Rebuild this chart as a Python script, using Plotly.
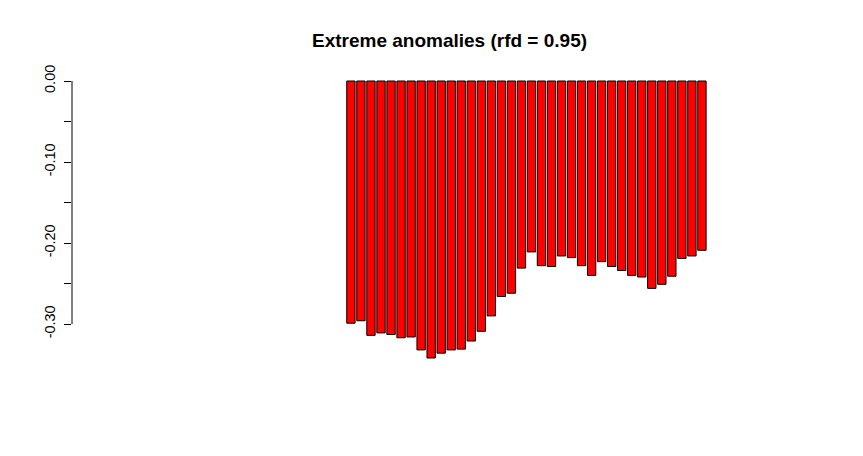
import plotly.graph_objects as go

values = [-0.299, -0.296, -0.314, -0.311, -0.313, -0.317, -0.316, -0.332, -0.342,
          -0.336, -0.332, -0.331, -0.321, -0.309, -0.290, -0.266, -0.262, -0.231,
          -0.211, -0.228, -0.229, -0.216, -0.218, -0.228, -0.240, -0.223, -0.229,
          -0.234, -0.240, -0.242, -0.256, -0.251, -0.241, -0.219, -0.216, -0.209]
positions = list(range(1, len(values) + 1))
tick_vals = [0.0, -0.05, -0.10, -0.15, -0.20, -0.25, -0.30]
tick_text = ["0.00", "", "-0.10", "", "-0.20", "", "-0.30"]
title = "Extreme anomalies (rfd = 0.95)"

fig = go.Figure(go.Bar(
    x=positions, y=values,
    marker=dict(color="#FF0000", line=dict(color="black", width=1)),
    hoverinfo="y",
))

fig.update_layout(
    width=863, height=456,
    margin=dict(l=64, r=44, t=62, b=95),
    paper_bgcolor="white", plot_bgcolor="white",
    bargap=0.167,
    showlegend=False,
    title=dict(text=f"<b>{title}</b>", x=(64 + 819) / 2 / 863, xanchor="center",
               y=1 - 32 / 456, yanchor="middle",
               font=dict(family="Liberation Sans, Arial", size=19, color="black")),
    font=dict(family="Liberation Sans, Arial", size=14, color="black"),
    xaxis=dict(range=[-26.81, 48.47], showgrid=False, zeroline=False, showline=False,
               showticklabels=False, ticks=""),
    yaxis=dict(range=[-0.35556, 0.01358], showgrid=False, zeroline=False, showline=False,
               tickvals=tick_vals, ticktext=tick_text, ticks="outside", ticklen=7,
               tickwidth=1, tickcolor="black", tickangle=-90, ticklabelstandoff=3,
               tickfont=dict(size=14.5)),
    shapes=[dict(type="line", xref="paper", yref="y", x0=0, x1=0,
                 y0=min(tick_vals), y1=max(tick_vals),
                 line=dict(color="black", width=1))],
)

fig.write_html("out.html")
